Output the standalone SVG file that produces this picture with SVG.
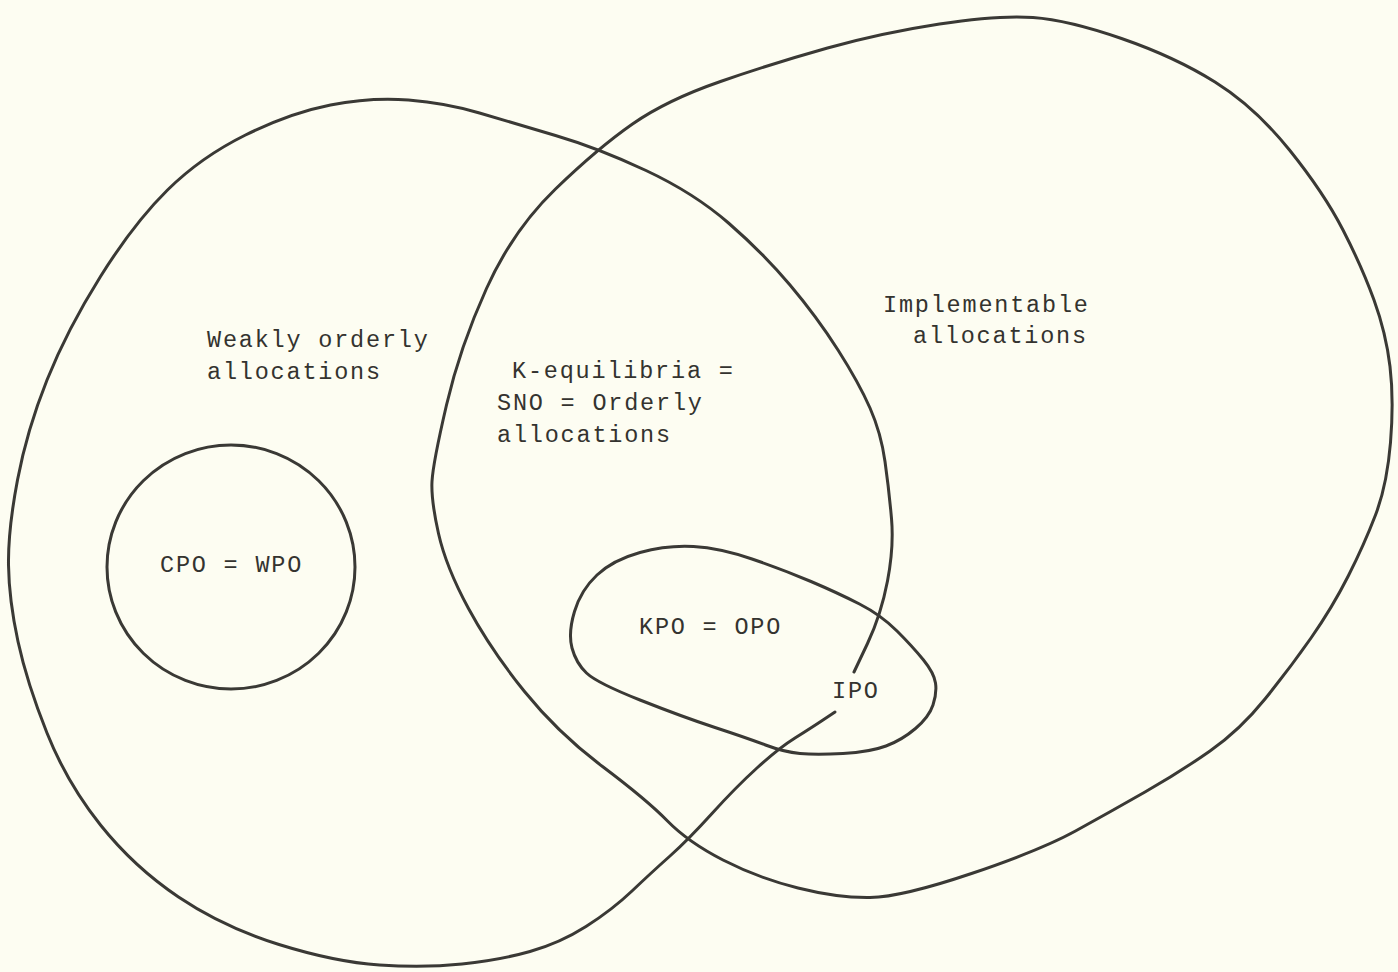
<svg xmlns="http://www.w3.org/2000/svg" width="1398" height="972" viewBox="0 0 1398 972">
<style>
.c{fill:none;stroke:#3a3935;stroke-width:3;stroke-linecap:round;stroke-linejoin:round}
.t{font-family:"Liberation Mono","DejaVu Sans Mono",monospace;font-size:23.5px;letter-spacing:1.8px;fill:#34332f}
</style>
<rect width="1398" height="972" fill="#fdfdf2"/>
<g id="connectors">
<path id="weakly-orderly-boundary" class="c" d="M854,672 L867.5,643.5 Q881,615 887.5,581 Q894,547 891.5,518.5 Q889,490 885,461.5 Q881,433 870,408 Q859,383 838,350 Q817,317 790,285 Q763,253 728.5,223 Q694,193 646,170.5 Q598,148 555.5,135.5 Q513,123 479.5,113 Q446,103 408.5,100 Q371,97 330.5,105 Q290,113 245.5,135 Q201,157 167.5,190 Q134,223 100.5,276.5 Q67,330 47,380 Q27,430 17.5,480 Q8,530 8.5,565 Q9,600 18,641.5 Q27,683 47,733 Q67,783 100.5,825 Q134,867 178.5,897 Q223,927 279,944.5 Q335,962 379.5,965 Q424,968 462,964 Q500,960 530,951.5 Q560,943 586,926.5 Q612,910 632,891 Q652,872 670,856 Q688,840 712,813.5 Q736,787 757.5,767.5 Q779,748 795,738 Q811,728 823,720 L835,712"/>
</g>
<g id="implementable">
<path class="c" d="M632.5,124 Q667,100 720.5,81.5 Q774,63 827.5,48 Q881,33 939.5,24 Q998,15 1033,17.5 Q1068,20 1121.5,38.5 Q1175,57 1215,82 Q1255,107 1289.5,150 Q1324,193 1343,230 Q1362,267 1374,300 Q1386,333 1390,366.5 Q1394,400 1390.5,442.5 Q1387,485 1375.5,515 Q1364,545 1348,576.5 Q1332,608 1311,638 Q1290,668 1265,699 Q1240,730 1210,751 Q1180,772 1145,792 Q1110,812 1075.5,831 Q1041,850 971.5,873.5 Q902,897 870,897.5 Q838,898 798,888 Q758,878 723,860 Q688,842 667.5,821 Q647,800 602.5,766.5 Q558,733 524.5,691.5 Q491,650 468.5,608.5 Q446,567 438.5,533.5 Q431,500 432,481.5 Q433,463 446.5,405 Q460,347 486.5,288.5 Q513,230 555.5,189 Q598,148 632.5,124 Z"/>
<text class="t" x="883" y="312">Implementable</text>
<text class="t" x="913" y="343">allocations</text>
</g>
<g id="weakly-orderly">
<text class="t" x="207" y="347">Weakly orderly</text>
<text class="t" x="207" y="379">allocations</text>
</g>
<g id="k-equilibria">
<text class="t" x="512" y="378">K-equilibria =</text>
<text class="t" x="497" y="410">SNO = Orderly</text>
<text class="t" x="497" y="442">allocations</text>
</g>
<g id="cpo">
<ellipse class="c" cx="231" cy="567" rx="124" ry="122"/>
<text class="t" x="160" y="572">CPO = WPO</text>
</g>
<g id="kpo">
<path class="c" d="M572,648 Q576,663 586.5,673 Q597,683 640,700 Q683,717 715,727.5 Q747,738 765.5,745 Q784,752 800,753.5 Q816,755 843,753.5 Q870,752 886,746 Q902,740 915.5,728.5 Q929,717 933,705 Q937,693 935.5,683 Q934,673 923.5,660 Q913,647 897,631 Q881,615 859.5,604 Q838,593 811,581.5 Q784,570 752,559 Q720,548 693.5,546.5 Q667,545 640,552.5 Q613,560 597,575 Q581,590 574.5,611.5 Q568,633 572,648 Z"/>
<text class="t" x="639" y="634">KPO = OPO</text>
</g>
<g id="ipo">
<text class="t" x="832" y="698">IPO</text>
</g>
</svg>
